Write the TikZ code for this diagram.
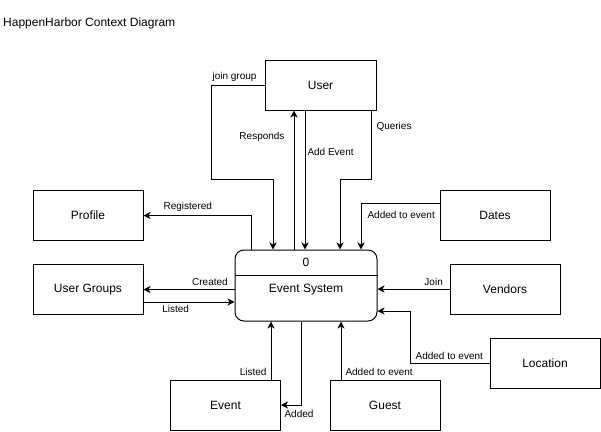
\documentclass[tikz,border=0pt]{standalone}
\usepackage{fontspec}
\setmainfont{Liberation Sans}
\usepackage{tikz}
\usetikzlibrary{shapes.geometric, arrows.meta, positioning}
\tikzset{
    box/.style={rectangle, draw, line width=1pt, minimum width=110pt, minimum height=50pt, text centered, font=\fontsize{12}{14}\selectfont},
    process/.style={rectangle, rounded corners=9pt, draw, line width=1pt, minimum width=142pt, minimum height=71pt},
    flow/.style={->, line width=1pt, >={Stealth[length=7pt, width=7pt, inset=2pt]}},
    lbl/.style={font=\fontsize{10}{12}\selectfont, inner sep=2pt}
}
\begin{document}
\begin{tikzpicture}[x=1pt, y=-1pt]
    \useasboundingbox (0,0) rectangle (601,431);

    % Title
    \node[anchor=west, font=\fontsize{12}{14}\selectfont, inner sep=0pt] (title) at (3,23) {HappenHarbor Context Diagram};

    % Central process
    \node[process] (sys) at (306,285.5) {};
    \node[minimum height=26pt, anchor=north, inner sep=0pt, font=\fontsize{12}{14}\selectfont] (sys_id) at (sys.north) {0};
    \node[font=\fontsize{12}{14}\selectfont] (sys_name) at (306,290) {Event System};
    \draw[line width=1pt] (sys.west |- sys_id.south) -- (sys.east |- sys_id.south);

    % External entities
    \node[box, minimum width=111pt] (user) at (320.5,85) {User};
    \node[box] (profile) at (88,215.5) {Profile};
    \node[box] (groups) at (88,289.5) {User Groups};
    \node[box] (dates) at (495,215) {Dates};
    \node[box] (vendors) at (505,289) {Vendors};
    \node[box] (location) at (545,363) {Location};
    \node[box] (event) at (225.5,405) {Event};
    \node[box] (guest) at (385,405) {Guest};

    % Bend points
    \coordinate (jg_bend) at (211,179);
    \coordinate (q_bend) at (340,179);
    \coordinate (loc_bend) at (410,311);

    % Flows
    \draw[flow] (user.west) -| node[lbl, pos=0.28, above=1pt] {join group} (jg_bend) -| ([xshift=-33pt]sys.north);
    \draw[flow] ([xshift=-12pt]sys.north) -- ([xshift=-12pt]sys.north |- user.south) node[lbl, pos=0.81, left=7pt] {Responds};
    \draw[flow] ([xshift=-15.5pt]user.south) -- ([xshift=-15.5pt]user.south |- sys.north) node[lbl, pos=0.3, right] {Add Event};
    \draw[flow] ([xshift=50.5pt]user.south) |- node[lbl, pos=0.116, right=3pt] {Queries} (q_bend) -- (q_bend |- sys.north);
    \draw[flow] ([xshift=-55pt]sys.north) |- (profile.east) node[lbl, pos=0.794, above=1pt] {Registered};
    \draw[flow] (groups.east -| sys.west) -- (groups.east) node[lbl, pos=0.27, above=1pt] {Created};
    \draw[flow] ([yshift=-12.5pt]groups.east) -- ([yshift=-12.5pt]groups.east -| sys.west) node[lbl, pos=0.353, below=1pt] {Listed};
    \draw[flow] ([yshift=12pt]dates.west) -| ([xshift=55pt]sys.north) node[lbl, pos=0.244, below=6pt] {Added to event};
    \draw[flow] (vendors.west) -- (vendors.west -| sys.east) node[lbl, pos=0.22, above=1pt] {Join};
    \draw[flow] (location.west) -| node[lbl, pos=0.253, above=1pt] {Added to event} (loc_bend) -- (loc_bend -| sys.east);
    \draw[flow] ([xshift=-44pt]guest.north) -- ([xshift=-44pt]guest.north |- sys.south) node[lbl, pos=0.136, right=2pt] {Added to event};
    \draw[flow] ([xshift=45.5pt]event.north) -- ([xshift=45.5pt]event.north |- sys.south) node[lbl, pos=0.136, left=2pt] {Listed};
    \draw[flow] ([xshift=-5pt]sys.south) |- (event.east) node[lbl, pos=0.55, below=3pt] {Added};
\end{tikzpicture}
\end{document}
